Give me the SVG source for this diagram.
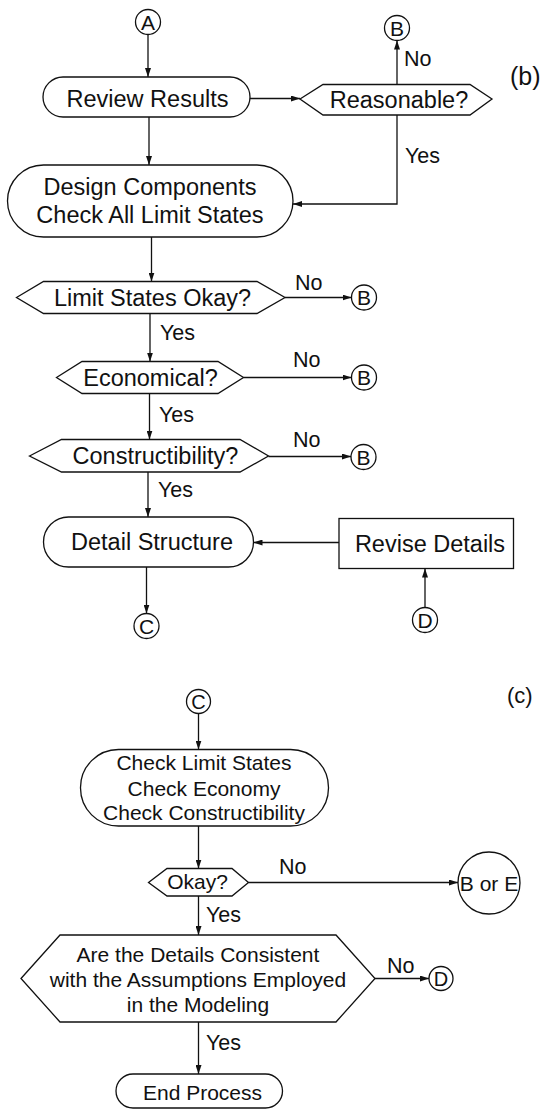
<svg xmlns="http://www.w3.org/2000/svg" width="552" height="1114" viewBox="0 0 552 1114">
  <defs>
    <marker id="arrow" markerUnits="userSpaceOnUse" markerWidth="10" markerHeight="6" refX="9" refY="3" orient="auto">
      <path d="M0,0 L9,3 L0,6 z" fill="#111"/>
    </marker>
    <style>
      .shape { fill: #fff; stroke: #111; stroke-width: 1.3; }
      .conn { fill: none; stroke: #111; stroke-width: 1.3; marker-end: url(#arrow); }
      text { font-family: "Liberation Sans", Arial, Helvetica, sans-serif; fill: #111; }
      .b { font-size: 23.5px; text-anchor: middle; }
      .c { font-size: 21px; text-anchor: middle; }
      .lbl { font-size: 21.5px; }
      .ltr { font-size: 21px; text-anchor: middle; }
      .tag { font-size: 25px; }
    </style>
  </defs>

  <!-- part (b) -->
  <text class="tag" x="510" y="85">(b)</text>

  <g id="conn-a">
    <circle class="shape" cx="148" cy="22" r="12.5"/>
    <text class="ltr" x="148" y="29.5">A</text>
  </g>

  <g id="review-results">
    <rect class="shape" x="43" y="77" width="207" height="40" rx="20" ry="20"/>
    <text class="b" x="147.5" y="106.5">Review Results</text>
  </g>

  <g id="reasonable">
    <polygon class="shape" points="300,99 323,84.5 470,84.5 492,99 470,115 323,115"/>
    <text class="b" x="399" y="107.5">Reasonable?</text>
  </g>

  <g id="conn-b1">
    <circle class="shape" cx="397" cy="28" r="12.5"/>
    <text class="ltr" x="397" y="35.5">B</text>
  </g>

  <g id="design-components">
    <rect class="shape" x="7.5" y="165" width="285.5" height="72" rx="36" ry="36"/>
    <text class="b" x="150" y="195">Design Components</text>
    <text class="b" x="150" y="223">Check All Limit States</text>
  </g>

  <g id="limit-states">
    <polygon class="shape" points="16.5,297.5 43.5,281.5 257,281.5 285,297.5 257,313.5 43.5,313.5"/>
    <text class="b" x="152.5" y="305.5">Limit States Okay?</text>
  </g>

  <g id="conn-b2">
    <circle class="shape" cx="364" cy="297.5" r="12.5"/>
    <text class="ltr" x="364" y="305">B</text>
  </g>

  <g id="economical">
    <polygon class="shape" points="56.5,377.5 82,361.5 218,361.5 243.5,377.5 218,393.5 82,393.5"/>
    <text class="b" x="150.5" y="385.5">Economical?</text>
  </g>

  <g id="conn-b3">
    <circle class="shape" cx="364" cy="377.5" r="12.5"/>
    <text class="ltr" x="364" y="385">B</text>
  </g>

  <g id="constructibility">
    <polygon class="shape" points="29.5,456 61.5,439.5 240,439.5 268.5,456 240,472 61.5,472"/>
    <text class="b" x="155.5" y="464">Constructibility?</text>
  </g>

  <g id="conn-b4">
    <circle class="shape" cx="363.5" cy="457" r="12.5"/>
    <text class="ltr" x="363.5" y="464.5">B</text>
  </g>

  <g id="detail-structure">
    <rect class="shape" x="43.5" y="517" width="210" height="50" rx="25" ry="25"/>
    <text class="b" x="152" y="550">Detail Structure</text>
  </g>

  <g id="revise-details">
    <rect class="shape" x="339" y="518.5" width="174.5" height="50"/>
    <text class="b" x="430" y="552">Revise Details</text>
  </g>

  <g id="conn-c1">
    <circle class="shape" cx="146.5" cy="626" r="12.5"/>
    <text class="ltr" x="146.5" y="633.5">C</text>
  </g>

  <g id="conn-d1">
    <circle class="shape" cx="425" cy="620" r="12.5"/>
    <text class="ltr" x="425" y="627.5">D</text>
  </g>

  <!-- part (c) -->
  <text class="tag" x="507" y="703" style="font-size:22px">(c)</text>

  <g id="conn-c2">
    <circle class="shape" cx="198.5" cy="701.5" r="12"/>
    <text class="ltr" x="198.5" y="708.5" style="font-size:20px">C</text>
  </g>

  <g id="check-all">
    <rect class="shape" x="80.5" y="749.5" width="248" height="76.5" rx="38" ry="38"/>
    <text class="c" x="204" y="770">Check Limit States</text>
    <text class="c" x="204" y="796">Check Economy</text>
    <text class="c" x="204" y="820">Check Constructibility</text>
  </g>

  <g id="okay">
    <polygon class="shape" points="148.5,882.5 167,868.5 232,868.5 248.5,882.5 232,896 167,896"/>
    <text class="c" x="197.5" y="889">Okay?</text>
  </g>

  <g id="b-or-e">
    <circle class="shape" cx="489" cy="883" r="31"/>
    <text class="c" x="489" y="890.5">B or E</text>
  </g>

  <g id="details-consistent">
    <polygon class="shape" points="21,978.5 60,935 336,935 375,978.5 336,1022 60,1022"/>
    <text class="c" x="198" y="962">Are the Details Consistent</text>
    <text class="c" x="198" y="987">with the Assumptions Employed</text>
    <text class="c" x="198" y="1012">in the Modeling</text>
  </g>

  <g id="conn-d2">
    <circle class="shape" cx="441" cy="978.5" r="12"/>
    <text class="ltr" x="441" y="985.5" style="font-size:20px">D</text>
  </g>

  <g id="end-process">
    <rect class="shape" x="116" y="1074" width="166.5" height="34" rx="17" ry="17"/>
    <text class="c" x="202.5" y="1099.5">End Process</text>
  </g>

  <!-- connectors and their labels -->
  <g id="connectors">
    <path class="conn" d="M148,34.5 V77"/>
    <path class="conn" d="M250,98.5 H300"/>
    <path class="conn" d="M397,84.5 V40.5"/>
    <path class="conn" d="M397,115 V204 H293"/>
    <path class="conn" d="M149,117 V165"/>
    <path class="conn" d="M151.5,237 V281.5"/>
    <path class="conn" d="M285,297.5 H351.5"/>
    <path class="conn" d="M150,313.5 V361.5"/>
    <path class="conn" d="M243.5,377.5 H351.5"/>
    <path class="conn" d="M149.5,393.5 V439.5"/>
    <path class="conn" d="M268.5,456.5 H351"/>
    <path class="conn" d="M148,472 V517"/>
    <path class="conn" d="M339,542.5 H253.5"/>
    <path class="conn" d="M146.5,567 V613.5"/>
    <path class="conn" d="M425,607.5 V568.5"/>
    <path class="conn" d="M198.5,713.5 V749.5"/>
    <path class="conn" d="M198.5,826 V868.5"/>
    <path class="conn" d="M248.5,882.5 H458"/>
    <path class="conn" d="M198.5,896 V935"/>
    <path class="conn" d="M375,978.5 H429"/>
    <path class="conn" d="M198.5,1022 V1074"/>

    <text class="lbl" x="404" y="66">No</text>
    <text class="lbl" x="405" y="163">Yes</text>
    <text class="lbl" x="295" y="290">No</text>
    <text class="lbl" x="160" y="340">Yes</text>
    <text class="lbl" x="293" y="367">No</text>
    <text class="lbl" x="159" y="422">Yes</text>
    <text class="lbl" x="293" y="447">No</text>
    <text class="lbl" x="158" y="497">Yes</text>
    <text class="lbl" x="279" y="874">No</text>
    <text class="lbl" x="206" y="922">Yes</text>
    <text class="lbl" x="387" y="973">No</text>
    <text class="lbl" x="206" y="1050">Yes</text>
  </g>
</svg>
